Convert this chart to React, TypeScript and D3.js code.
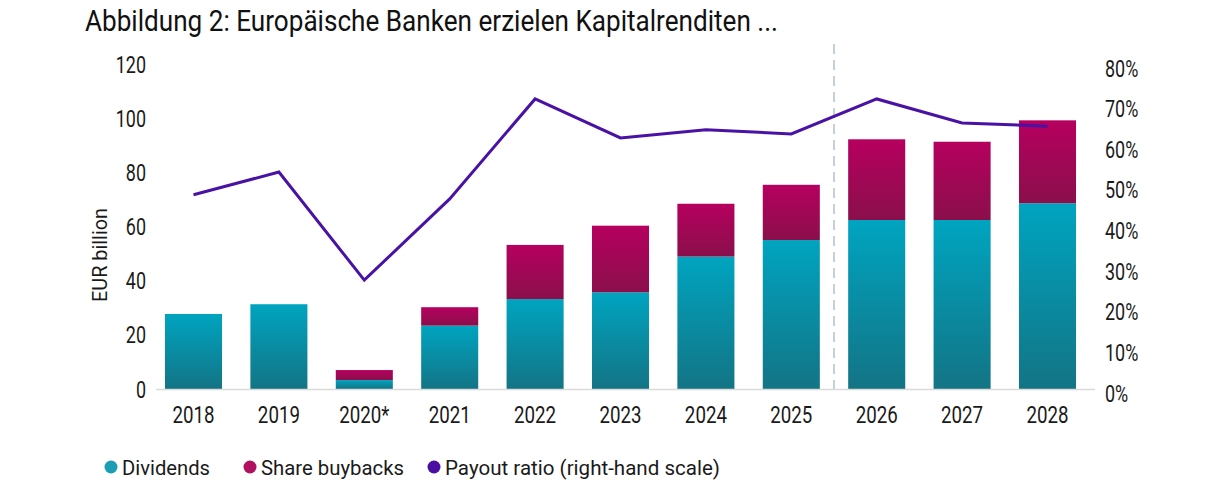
import React from "react";
import * as d3 from "d3";

const YEARS = ["2018", "2019", "2020*", "2021", "2022", "2023", "2024", "2025", "2026", "2027", "2028"];
const DIVIDENDS = [27.7, 31.3, 3.3, 23.4, 33.2, 35.7, 48.9, 55.0, 62.4, 62.4, 68.6];
const BUYBACKS = [0, 0, 3.7, 6.8, 20.0, 24.6, 19.5, 20.4, 29.8, 28.9, 30.6];
const PAYOUT = [47.8, 53.4, 26.8, 46.8, 71.4, 61.8, 63.8, 62.8, 71.4, 65.5, 64.7];
const LEFT_TICKS = [0, 20, 40, 60, 80, 100, 120];
const RIGHT_TICKS = [0, 10, 20, 30, 40, 50, 60, 70, 80];
const LEGEND = [
  { label: "Dividends", color: "#1b9db3", len: 88 },
  { label: "Share buybacks", color: "#b0105f", len: 143 },
  { label: "Payout ratio (right-hand scale)", color: "#4a0fa2", len: 275 },
];

const W = 1207;
const H = 487;
const FONT = "Roboto, 'Noto Sans', sans-serif";
const LINE_COLOR = "#4a12a4";

// condensed-looking text: Roboto squeezed horizontally
function CText(props: {
  x: number;
  y: number;
  size: number;
  anchor?: string;
  sx?: number;
  children: React.ReactNode;
}) {
  const { x, y, size, anchor = "middle", sx = 0.78, children } = props;
  return (
    <text
      transform={`translate(${x},${y}) scale(${sx},1)`}
      textAnchor={anchor}
      fontSize={size}
      fontFamily={FONT}
      fill="#1a1a1a"
    >
      {children}
    </text>
  );
}

export default function App() {
  const x = d3
    .scaleBand<string>()
    .domain(YEARS)
    .range([150.8, 1090.2])
    .paddingInner(0.332)
    .paddingOuter(0.166);
  const y = d3.scaleLinear().domain([0, 120]).range([389, 64]);
  const y2 = d3.scaleLinear().domain([0, 80]).range([389, 64]);

  const line = d3
    .line<number>()
    .x((_, i) => (x(YEARS[i]) ?? 0) + x.bandwidth() / 2)
    .y((d) => y2(d));

  // forecast separator between 2025 and 2026
  const sepX = ((x("2025") ?? 0) + x.bandwidth() + (x("2026") ?? 0)) / 2;

  return (
    <svg
      width={W}
      height={H}
      style={{ position: "absolute", left: 0, top: 0, background: "#fff" }}
    >
      <defs>
        <linearGradient id="gDiv" x1="0" y1="0" x2="0" y2="1">
          <stop offset="0%" stopColor="#00a4c0" />
          <stop offset="100%" stopColor="#137485" />
        </linearGradient>
        <linearGradient id="gBuy" x1="0" y1="0" x2="0" y2="1">
          <stop offset="0%" stopColor="#b6005f" />
          <stop offset="100%" stopColor="#8a0f4b" />
        </linearGradient>
      </defs>

      {/* Title */}
      <text
        x={85}
        y={31}
        fontSize={29}
        fontFamily={FONT}
        fill="#111"
        textLength={693}
        lengthAdjust="spacingAndGlyphs"
      >
        Abbildung 2: Europäische Banken erzielen Kapitalrenditen ...
      </text>

      {/* Separator */}
      <line
        x1={sepX}
        x2={sepX}
        y1={44}
        y2={389}
        stroke="#c6cfdc"
        strokeWidth={2}
        strokeDasharray="10,6"
      />

      {/* Bars */}
      {YEARS.map((yr, i) => {
        const bx = x(yr) ?? 0;
        const d = DIVIDENDS[i];
        const b = BUYBACKS[i];
        return (
          <g key={yr}>
            <rect x={bx} width={x.bandwidth()} y={y(d)} height={y(0) - y(d)} fill="url(#gDiv)" />
            {b > 0 && (
              <rect
                x={bx}
                width={x.bandwidth()}
                y={y(d + b)}
                height={y(d) - y(d + b)}
                fill="url(#gBuy)"
              />
            )}
          </g>
        );
      })}

      {/* Baseline */}
      <line x1={156} x2={1095} y1={y(0) + 0.5} y2={y(0) + 0.5} stroke="#dadada" strokeWidth={1.5} />

      {/* Payout line */}
      <path d={line(PAYOUT) ?? ""} fill="none" stroke={LINE_COLOR} strokeWidth={3} strokeLinejoin="miter" />

      {/* Left axis */}
      {LEFT_TICKS.map((t) => (
        <CText key={t} x={146} y={y(t) + 8.5} size={23} anchor="end">
          {t}
        </CText>
      ))}
      <text
        transform={`translate(107,255) rotate(-90)`}
        textAnchor="middle"
        fontSize={21}
        fontFamily={FONT}
        fill="#1a1a1a"
        textLength={94}
        lengthAdjust="spacingAndGlyphs"
      >
        EUR billion
      </text>

      {/* Right axis */}
      {RIGHT_TICKS.map((t) => (
        <CText key={t} x={1105} y={y2(t) + 12.5} size={23} anchor="start">
          {t}%
        </CText>
      ))}

      {/* X axis labels */}
      {YEARS.map((yr) => (
        <CText key={yr} x={(x(yr) ?? 0) + x.bandwidth() / 2} y={423} size={24} sx={0.78}>
          {yr}
        </CText>
      ))}

      {/* Legend */}
      {(() => {
        const starts = [111, 250, 434];
        return LEGEND.map((l, i) => (
          <g key={l.label}>
            <circle cx={starts[i]} cy={467} r={6.5} fill={l.color} />
            <text
              x={starts[i] + 11}
              y={474.5}
              fontSize={21}
              fontFamily={FONT}
              fill="#1a1a1a"
              textLength={l.len}
              lengthAdjust="spacingAndGlyphs"
            >
              {l.label}
            </text>
          </g>
        ));
      })()}
    </svg>
  );
}
